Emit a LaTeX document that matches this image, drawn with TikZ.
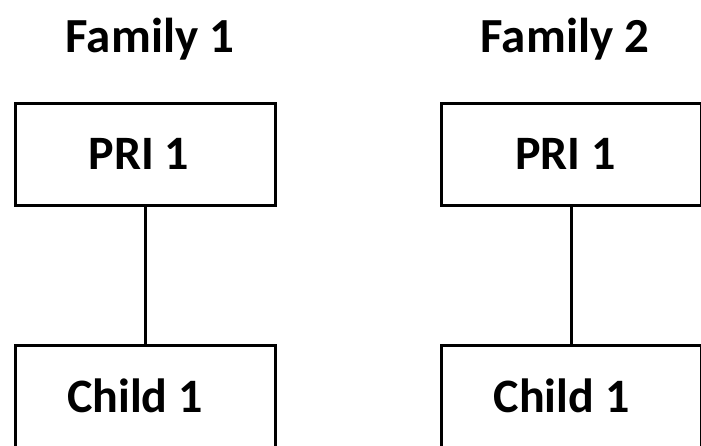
\documentclass[tikz,border=0pt]{standalone}
\usepackage{fontspec}
\setmainfont{Carlito}
\begin{document}
\begin{tikzpicture}[x=0.5pt,y=-0.5pt,
 box/.style={draw,line width=1.5pt,minimum width=130pt,minimum height=51pt,inner sep=0pt,
  font=\bfseries\fontsize{24}{29}\selectfont},
 fam/.style={anchor=base,font=\bfseries\fontsize{24.5}{29}\selectfont},
 ]
 \clip (0,0) rectangle (701,445);
 \fill[white] (0,0) rectangle (701,445);
 % Familien
 \node[fam] (fam1) at (150,52) {Family 1};
 \node[fam] (fam2) at (565,52) {Family 2};
 % Kästen
 \node[box] (pri1)   at (145,154) {\hspace*{-6pt}PRI 1};
 \node[box] (child1) at (145,396) {\hspace*{-10pt}Child 1};
 \node[box] (pri2)   at (571.5,154) {\hspace*{-6pt}PRI 1};
 \node[box] (child2) at (571.5,396) {\hspace*{-10pt}Child 1};
 % Verbindungen
 \draw[line width=1.5pt] (pri1) -- (child1)
 (pri2) -- (child2);
\end{tikzpicture}
\end{document}
